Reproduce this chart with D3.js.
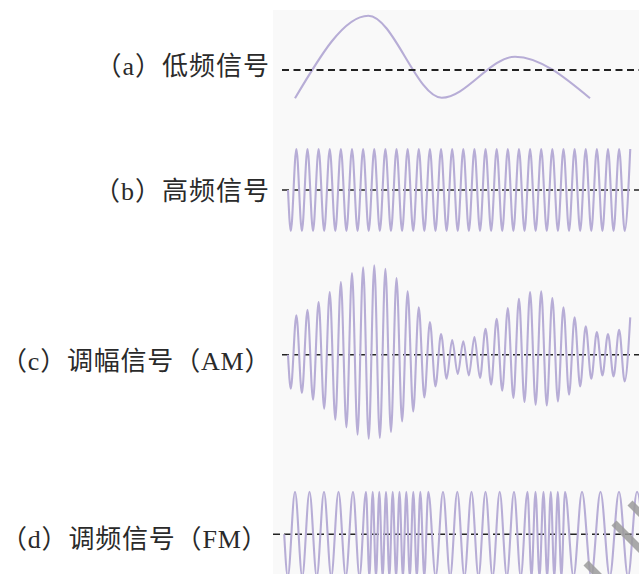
<!DOCTYPE html>
<html><head><meta charset="utf-8">
<script src="https://cdn.jsdelivr.net/npm/d3@7"></script>
<style>html,body{margin:0;padding:0;background:#fff;}svg{display:block;}</style>
</head><body>
<script>
// ---- data (time in arbitrary units, amplitude in signal units) ----
const labels = ["（a）低频信号", "（b）高频信号", "（c）调幅信号（AM）", "（d）调频信号（FM）"];

// (a) low-frequency signal: extrema (time, value)
const lowTimes  = [13, 86.3, 159.7, 233, 308];
const lowValues = [-28.3, 54.3, -27.7, 13.3, -28.3];

// (b) carrier: start time, period and number of cycles
const carrierStart = 6, carrierPeriod = 11.13, carrierCycles = 31, carrierAmp = 41;

// (c) AM: amplitude of each trough and each peak of the carrier (31 cycles)
const amTroughs = [34, 38.3, 45, 54, 65, 72.7, 80, 84, 83.3, 77.3, 66.7, 56.7, 42.7, 31.7, 24, 19.3,
                   20.7, 23.3, 30, 36, 43.3, 47.3, 50, 50.7, 46.7, 40, 31.7, 24, 20.7, 21.7, 26.7];
const amPeaks   = [39.3, 45, 52.7, 62.7, 72.7, 81.7, 87.3, 89.3, 86, 76.7, 63.3, 47.3, 32.7, 20.7, 14.7,
                   13.3, 17.7, 26, 36, 46.7, 56, 62.7, 63.3, 56.7, 47.3, 37.3, 28.3, 22.7, 20.7, 25, 37.3];

// (d) FM: times of troughs and peaks
const fmStart = 2.2, fmAmp = 42.5;
const fmTroughTimes = [5.8, 20.25, 34.75, 49.25, 63.75, 77.5, 87.35, 94, 100.65, 107.35, 114.1, 120.9, 127.8,
                       134.8, 142.3, 153.65, 168.15, 182.4, 196.5, 210.6, 224.85, 238.75, 249.5, 257.5, 265.15,
                       272.3, 279.4, 291.5, 309.25, 327.75, 346, 364];
const fmPeakTimes   = [13, 27.5, 42, 56.5, 71, 84, 90.7, 97.3, 104, 110.7, 117.5, 124.3, 131.3, 138.3, 146.3,
                       161, 175.3, 189.5, 203.5, 217.7, 232, 245.5, 253.5, 261.5, 268.8, 275.8, 283, 300,
                       318.5, 337, 355];

// ---- layout ----
const W = 639, H = 574;
const svg = d3.select("body").append("svg").attr("width", W).attr("height", H);
svg.append("rect").attr("x", 0).attr("y", 0).attr("width", W).attr("height", H).attr("fill", "#fff");
svg.append("rect").attr("x", 273).attr("y", 10).attr("width", W - 273).attr("height", H - 10).attr("fill", "#f9f9f9");

const x = d3.scaleLinear().domain([0, 357]).range([282, 639]);
const centers = [70, 190, 354.7, 534.2];
const yScales = centers.map(c => d3.scaleLinear().domain([-100, 100]).range([c + 100, c - 100]));

const waveColor = "#b7add6";

// build point sets
const lowPts = lowTimes.map((t, i) => [t, lowValues[i]]);

const carrierPts = [[carrierStart, 0]];
d3.range(carrierCycles).forEach(k => {
  carrierPts.push([carrierStart + carrierPeriod * (k + 0.25), -carrierAmp]);
  carrierPts.push([carrierStart + carrierPeriod * (k + 0.75), carrierAmp]);
});

const amPts = [[carrierStart, 0]];
amTroughs.forEach((a, k) => {
  amPts.push([carrierStart + carrierPeriod * (k + 0.25), -a]);
  amPts.push([carrierStart + carrierPeriod * (k + 0.75), amPeaks[k]]);
});

const fmPts = [[fmStart, 0]];
fmTroughTimes.forEach((t, k) => {
  fmPts.push([t, -fmAmp]);
  if (k < fmPeakTimes.length) fmPts.push([fmPeakTimes[k], fmAmp]);
});

const series = [lowPts, carrierPts, amPts, fmPts];
const dashStart = [0, 0, 0, -9];

series.forEach((pts, i) => {
  const y = yScales[i];
  const line = d3.line().x(d => x(d[0])).y(d => y(d[1])).curve(d3.curveMonotoneX);
  if (i > 0) {
    svg.append("line").attr("x1", x(dashStart[i])).attr("x2", W).attr("y1", y(0)).attr("y2", y(0))
      .attr("stroke", "#222").attr("stroke-width", 1.6).attr("stroke-dasharray", "7,4");
  }
  svg.append("path").attr("d", line(pts)).attr("fill", "none")
    .attr("stroke", waveColor).attr("stroke-width", 2.1).attr("stroke-linejoin", "round");
  if (i === 0) {
    svg.append("line").attr("x1", x(dashStart[i])).attr("x2", W).attr("y1", y(0)).attr("y2", y(0))
      .attr("stroke", "#222").attr("stroke-width", 2).attr("stroke-dasharray", "7,4.5");
  }
});

// labels
const labelY = [74.5, 199.5, 370, 547.5];
const labelX = [270, 270, 1, 1];
const labelAnchor = ["end", "end", "start", "start"];
const labelSpacing = [1, 1, 0.8, 0.8];
svg.selectAll("text.lbl").data(labels).enter().append("text")
  .attr("class", "lbl")
  .attr("x", (d, i) => labelX[i]).attr("y", (d, i) => labelY[i])
  .attr("text-anchor", (d, i) => labelAnchor[i])
  .attr("font-family", "'Liberation Serif', 'Noto Sans CJK SC', serif")
  .attr("font-size", 26)
  .attr("letter-spacing", (d, i) => labelSpacing[i])
  .attr("fill", "#2a2a2a")
  .text(d => d);

// faint diagonal watermark strokes (bottom right)
const marks = svg.append("g").attr("stroke", "#9c9c9c").attr("stroke-width", 7).attr("opacity", 0.85);
[[630, 503, 645, 518], [614, 523, 645, 554], [586, 563, 602, 579]].forEach(s => {
  marks.append("line").attr("x1", s[0]).attr("y1", s[1]).attr("x2", s[2]).attr("y2", s[3]);
});
</script>
</body></html>
